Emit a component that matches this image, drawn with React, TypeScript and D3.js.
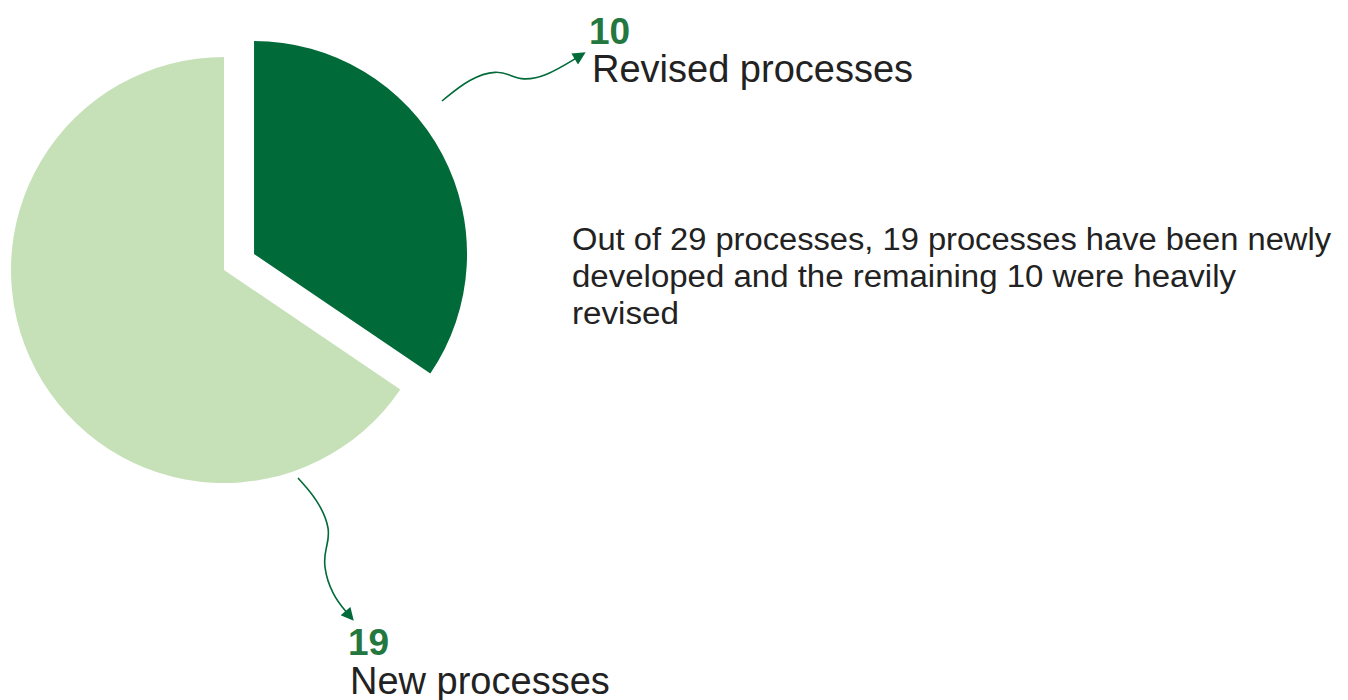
import React from "react";
import * as d3 from "d3";

// chart data
const categories = ["Revised processes", "New processes"];
const values = [10, 19];
const colors = ["#006a38", "#c6e1b8"];
const noteLines = [
  "Out of 29 processes, 19 processes have been newly",
  "developed and the remaining 10 were heavily",
  "revised",
];

const W = 1348;
const H = 700;
const cx = 224;
const cy = 270;
const radius = 213;
const explode = 34;

export default function App() {
  const pie = d3.pie<number>().sort(null).value((d) => d);
  const arcs = pie(values);
  const arc = d3.arc<d3.PieArcDatum<number>>().innerRadius(0).outerRadius(radius);

  const line = d3.line().curve(d3.curveBasis);
  // leader arrows
  const topArrow = line([
    [442, 101],
    [470, 78],
    [497, 70],
    [512, 76],
    [522, 80],
    [545, 77],
    [578, 57],
  ]);
  const bottomArrow = line([
    [298, 478],
    [318, 500],
    [331, 530],
    [326, 548],
    [323, 565],
    [332, 595],
    [348, 614],
  ]);

  return (
    <svg width={W} height={H} style={{ position: "absolute", left: 0, top: 0 }}>
      <defs>
        <marker
          id="head"
          viewBox="0 0 10 10"
          refX="3"
          refY="5"
          markerWidth="9"
          markerHeight="8"
          orient="auto"
          markerUnits="strokeWidth"
        >
          <path d="M0,0 L10,5 L0,10 z" fill="#006a38" />
        </marker>
      </defs>
      <g transform={`translate(${cx},${cy})`}>
        {arcs.map((a, i) => {
          const mid = (a.startAngle + a.endAngle) / 2;
          const dx = i === 0 ? Math.sin(mid) * explode : 0;
          const dy = i === 0 ? -Math.cos(mid) * explode : 0;
          return (
            <path
              key={categories[i]}
              d={arc(a) || ""}
              fill={colors[i]}
              transform={`translate(${dx},${dy})`}
            />
          );
        })}
      </g>
      <path d={topArrow || ""} fill="none" stroke="#006a38" strokeWidth={1.6} markerEnd="url(#head)" />
      <path d={bottomArrow || ""} fill="none" stroke="#006a38" strokeWidth={1.6} markerEnd="url(#head)" />

      <g fontFamily="'Liberation Sans', Arial, sans-serif">
        <text x={589} y={44} fontSize={37} fontWeight="bold" fill="#24773f">
          {values[0]}
        </text>
        <text x={592} y={82} fontSize={38} fill="#222">
          {categories[0]}
        </text>
        <text x={348} y={655} fontSize={37} fontWeight="bold" fill="#24773f">
          {values[1]}
        </text>
        <text x={350} y={694} fontSize={38} fill="#222">
          {categories[1]}
        </text>
      </g>
      <g fontFamily="'Liberation Sans', Arial, sans-serif" fontSize={31} fill="#222">
        {noteLines.map((t, i) => (
          <text
            key={i}
            x={572}
            y={250 + i * 37}
            textLength={[759, 664, 107][i]}
            lengthAdjust="spacingAndGlyphs"
          >
            {t}
          </text>
        ))}
      </g>
    </svg>
  );
}
